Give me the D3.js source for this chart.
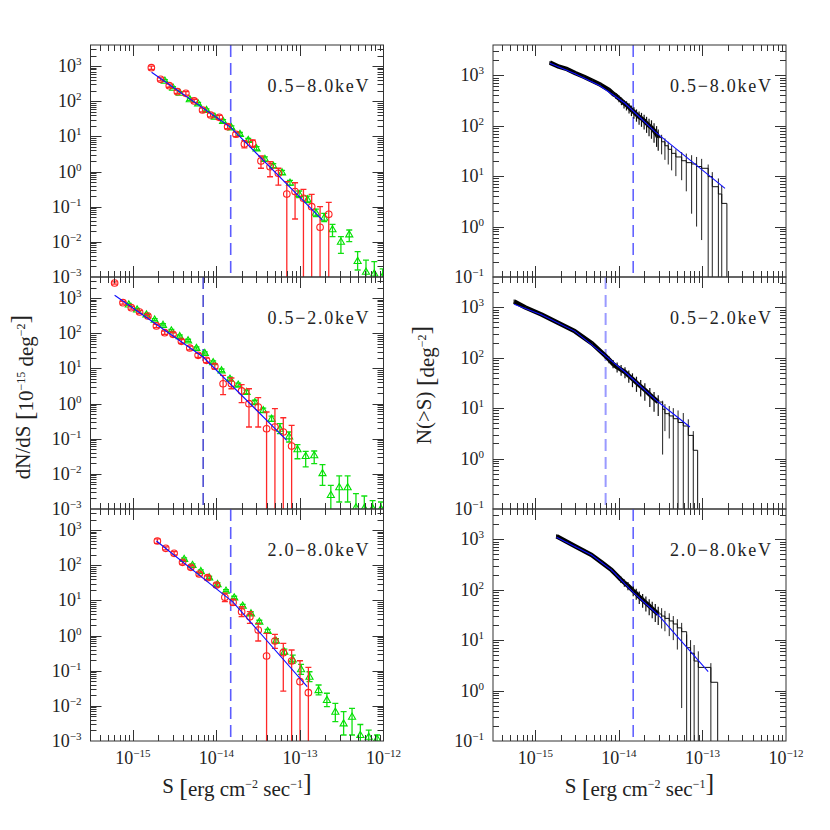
<!DOCTYPE html>
<html>
<head>
<meta charset="utf-8">
<script src="https://cdn.jsdelivr.net/npm/d3@7"></script>
<style>
  body { margin: 0; background: #fff; }
  svg { font-family: "Liberation Serif", "DejaVu Serif", serif; }
</style>
</head>
<body>
<svg id="chart" width="830" height="830"></svg>
<script>
// ======================
// DATA  (S in units of 1e-15 erg cm^-2 s^-1)
// rows: [S, N, errLow, errHigh]  (errLow 0 = bar runs to the axis)
// ======================

// --- dN/dS, 0.5-8.0 keV ---
const red808 = [
  [1.66, 899, 800, 1000], [2.14, 421, 380, 465], [2.72, 277, 250, 305],
  [3.40, 187, 168, 207], [4.30, 168, 150, 188], [5.41, 102, 91, 114],
  [6.81, 56.4, 50, 63.5], [8.51, 40.6, 36, 46], [10.8, 34.9, 31, 39.5],
  [13.6, 18.9, 16.5, 21.5], [17.1, 11.5, 9.8, 13.3], [21.6, 6.07, 4.7, 7.6],
  [27.1, 6.35, 4.9, 7.9], [34.1, 2.0, 1.24, 2.77], [43.8, 1.37, 0.71, 1.9],
  [55.1, 0.89, 0.41, 1.24], [69.5, 0.229, 0, 0.514], [87.3, 0.269, 0.0447, 0.48],
  [110, 0.174, 0, 0.313], [138, 0.1, 0, 0.225], [174, 0.026, 0, 0.1],
  [221, 0.0607, 0, 0.133]
];
const green808 = [
  [2.41, 384, 360, 410], [3.02, 243, 228, 259], [3.63, 175, 164, 187],
  [4.79, 114, 106, 122], [6.03, 87.1, 81, 93], [7.59, 56.4, 52, 61],
  [9.55, 36.3, 33.5, 39], [12.0, 27.4, 25, 30], [15.1, 18.1, 16.5, 19.8],
  [19.1, 11.7, 10.6, 12.9], [24.0, 7.89, 7.1, 8.7], [30.2, 4.58, 4.1, 5.1],
  [38.0, 2.28, 2.0, 2.6], [47.9, 1.47, 1.3, 1.67], [61.0, 0.95, 0.83, 1.08],
  [75.9, 0.482, 0.41, 0.56], [97.7, 0.229, 0.18, 0.28], [123, 0.162, 0.13, 0.2],
  [155, 0.0676, 0.052, 0.085], [195, 0.0486, 0.0374, 0.0649],
  [245, 0.0228, 0.014, 0.0315], [309, 0.0101, 0.00472, 0.014],
  [389, 0.0164, 0.0101, 0.0217], [490, 0.00285, 0.00158, 0.00525],
  [617, 0.00141, 0, 0.00304], [776, 0.00126, 0, 0.00272], [977, 0.00105, 0, 0.0017]
];
const fit808 = [[1.67, 665], [14.8, 18.1], [186, 0.0418]];

// --- dN/dS, 0.5-2.0 keV ---
const red052 = [
  [0.603, 2690, 2500, 2900], [0.759, 740, 670, 810], [0.955, 533, 485, 585],
  [1.20, 402, 365, 440], [1.51, 309, 280, 340], [1.91, 161, 145, 178],
  [2.40, 104, 93, 116], [3.02, 93.3, 83, 104], [3.80, 58.9, 52, 66],
  [4.79, 38.0, 33.5, 43], [6.03, 23.6, 20.5, 27], [7.59, 17.0, 14.5, 19.7],
  [9.55, 11.5, 9.6, 13.5], [12.0, 3.66, 1.79, 6.35], [15.1, 3.66, 2.64, 5.33],
  [20.0, 2.28, 1.06, 3.44], [24.5, 0.99, 0.215, 2.64], [31.6, 0.794, 0.215, 1.47],
  [39.8, 0.192, 0, 0.575], [50.1, 0.214, 0, 0.713], [63.1, 0.155, 0, 0.395],
  [79.4, 0.0617, 0, 0.24]
];
const green052 = [
  [0.891, 661, 620, 705], [1.12, 474, 445, 505], [1.45, 342, 320, 365],
  [1.82, 245, 230, 261], [2.29, 174, 163, 186], [2.88, 120, 112, 128],
  [3.63, 83.2, 78, 89], [4.57, 63.1, 59, 67.5], [5.75, 38.0, 35.5, 40.6],
  [7.24, 27.4, 25.5, 29.4], [9.12, 15.1, 14, 16.3], [11.5, 8.83, 8.1, 9.6],
  [14.5, 5.09, 4.6, 5.6], [18.2, 3.44, 3.1, 3.8], [22.9, 2.14, 1.9, 2.4],
  [28.8, 1.10, 0.97, 1.24], [36.3, 0.646, 0.56, 0.74], [45.7, 0.372, 0.31, 0.44],
  [57.5, 0.192, 0.139, 0.267], [74.1, 0.117, 0.0805, 0.155],
  [93.3, 0.0501, 0.0269, 0.0676], [117, 0.0324, 0.0157, 0.0437],
  [148, 0.0339, 0.0195, 0.0447], [186, 0.0105, 0.00472, 0.0182],
  [234, 0.00251, 0, 0.00472], [295, 0.00417, 0.00158, 0.0087],
  [372, 0.00417, 0.00158, 0.0087], [468, 0.00112, 0, 0.00272],
  [589, 0.00107, 0, 0.00234], [741, 0.00105, 0, 0.00174], [933, 0.00103, 0, 0.00158]
];
const fit052 = [[0.603, 1200], [6.92, 21.1], [69.5, 0.09]];

// --- dN/dS, 2.0-8.0 keV ---
const red208 = [
  [1.96, 490, 420, 560], [2.47, 302, 272, 335], [3.11, 219, 197, 243],
  [3.92, 121, 108, 135], [4.93, 87.2, 78, 97], [6.21, 56.3, 50, 63],
  [7.81, 44.3, 39, 50], [10.0, 27.4, 24, 31], [12.6, 12.2, 9.2, 16],
  [15.8, 8.83, 7.2, 10.6], [20.0, 4.79, 3.47, 6.6], [25.1, 3.44, 2.23, 4.79],
  [31.6, 1.44, 0.7, 2.23], [39.8, 0.262, 0, 1.16], [50.1, 0.7, 0.434, 1.08],
  [63.1, 0.325, 0.0264, 0.601], [79.4, 0.189, 0, 0.388], [100, 0.0486, 0, 0.192],
  [126, 0.0237, 0, 0.125]
];
const green208 = [
  [4.10, 151, 141, 162], [5.16, 102, 95, 109], [6.50, 68.5, 64, 73.5],
  [8.18, 45.4, 42.3, 48.7], [10.3, 29.2, 27.2, 31.3], [13.0, 18.9, 17.6, 20.3],
  [16.3, 12.2, 11.3, 13.1], [20.6, 7.08, 6.5, 7.7], [25.9, 4.3, 3.9, 4.7],
  [32.6, 2.48, 2.25, 2.72], [41.0, 1.35, 1.2, 1.5], [51.6, 0.713, 0.62, 0.81],
  [65.0, 0.347, 0.29, 0.41], [81.8, 0.211, 0.162, 0.279], [103, 0.11, 0.0789, 0.152],
  [130, 0.0675, 0.0486, 0.0933], [167, 0.0282, 0.0204, 0.0392],
  [210, 0.0147, 0.00946, 0.0228], [265, 0.00681, 0.00355, 0.0118],
  [333, 0.00318, 0.00148, 0.00681], [420, 0.00491, 0.00148, 0.00851],
  [528, 0.00148, 0, 0.00295], [665, 0.00132, 0, 0.00204], [838, 0.00117, 0, 0.00148]
];
const fit208 = [[1.91, 490], [15.8, 8.91], [122, 0.0351]];

// --- N(>S): faint, densely sampled part (drawn as a thick band) ---
const dense808 = [
  [1.49, 1778, 1650, 1900], [1.91, 1479, 1400, 1560], [2.40, 1318, 1250, 1390],
  [3.02, 1096, 1040, 1160], [3.80, 933, 880, 990], [4.79, 776, 730, 825],
  [6.03, 646, 605, 690], [7.59, 513, 470, 555], [8.5, 430, 385, 470],
  [9.2, 395, 340, 445], [10.0, 345, 290, 395], [10.7, 315, 255, 360],
  [11.5, 280, 220, 325], [12.3, 258, 200, 305], [13.2, 232, 175, 280],
  [14.1, 205, 155, 250], [15.1, 188, 138, 232], [16.2, 168, 120, 210],
  [17.4, 150, 105, 192], [18.6, 140, 95, 180], [20.0, 126, 84, 165],
  [21.4, 112, 72, 150], [22.9, 100, 62, 138], [24.5, 92, 55, 128],
  [26.3, 80, 46, 112], [28.2, 68, 38, 98], [29.5, 58, 32, 84]
];
// --- N(>S): bright, sparse part (drawn as steps) ---
const steps808 = [
  [32.4, 48, 27, 66], [35.5, 40, 21, 56], [38.9, 34, 17, 48], [42.7, 28.3, 13, 40],
  [48.0, 24, 10, 34], [56.3, 20.2, 8.3, 30], [64.0, 18.5, 5, 28], [74.1, 17.4, 1.8, 26],
  [85.0, 15.5, 1.0, 24], [97.7, 14.3, 0.54, 22], [117, 9.77, 0, 17],
  [131, 6.17, 0, 12], [155, 4.42, 0, 9], [170, 2.88, 0, 6.5]
];
const end808 = 196;
const cumFit808 = [[1.49, 1726], [2.97, 1074], [5.91, 621], [11.8, 278], [26.9, 76], [186, 5.73]];

const dense052 = [
  [0.556, 1300, 1150, 1420], [0.759, 990, 930, 1050], [1.18, 720, 680, 760],
  [1.91, 480, 450, 510], [2.97, 333, 310, 355], [4.79, 190, 172, 210],
  [6.78, 111, 97, 126], [7.6, 92, 78, 106], [8.5, 75, 62, 90],
  [9.5, 65, 51, 80], [10.6, 58, 44, 72], [11.8, 52, 39, 65],
  [13.1, 44, 32, 56], [14.5, 38, 26, 49], [16.2, 32, 21, 42],
  [18.2, 27, 17, 36], [20.4, 23, 14, 31], [23.4, 18.5, 10.5, 25],
  [26.3, 15.5, 8.5, 21], [29.5, 13.2, 7, 18]
];
const steps052 = [
  [33.3, 9.5, 1.2, 14], [35.5, 7.76, 3.5, 12], [40.0, 7.0, 2.5, 11],
  [44.7, 6.17, 0, 10], [51.0, 5.2, 0, 9], [58.9, 4.42, 0, 8],
  [67.6, 2.88, 0, 6], [77.6, 1.46, 0, 3.5]
];
const end052 = 87.5;
const cumFit052 = [[0.556, 1146], [1.18, 713], [2.97, 333], [6.78, 111], [11.8, 52], [29.5, 13.2], [70.8, 4.23]];

const dense208 = [
  [1.79, 1150, 1050, 1250], [2.4, 880, 830, 930], [3.02, 720, 680, 760],
  [4.70, 488, 460, 515], [6.3, 340, 315, 365], [8.16, 245, 222, 268],
  [9.2, 200, 178, 222], [10.5, 160, 138, 182], [11.6, 138, 115, 160],
  [12.8, 120, 98, 142], [14.8, 95, 74, 116], [16.1, 84, 63, 104],
  [17.5, 72, 52, 92], [19.2, 63, 44, 82], [21.0, 55, 37, 73],
  [23.0, 48, 31, 65], [25.0, 42, 27, 58], [27.2, 37, 23, 52], [29.5, 33, 20, 46]
];
const steps208 = [
  [32.4, 30, 17, 43], [35.5, 27, 15, 38], [40.0, 24, 12, 34], [44.7, 20.9, 10, 30],
  [50.0, 17.5, 6.5, 26], [56.3, 14.7, 0.45, 22], [64.6, 7.08, 0, 13],
  [72.0, 5.5, 0, 10], [79.4, 3.85, 0, 8], [89.1, 2.88, 0, 6], [126, 1.46, 0, 3.5]
];
const end208 = 152;
const cumFit208 = [[1.79, 1094], [4.70, 488], [8.16, 245], [14.8, 88.7], [29.5, 31.5], [117, 2.37]];

// flux limits (dashed) and band names
const bandNames = ["0.5\u22128.0keV", "0.5\u22122.0keV", "2.0\u22128.0keV"];
const fluxLimits = [14.8, 6.92, 14.8];

// axis domains
const xDomain = [0.31, 1000];
const yDomainDiff = [1e-3, 3981];
const yDomainCum = [0.1, 3981];
const xTickExp = [-15, -14, -13, -12];

// ======================
// LAYOUT
// ======================
const svg = d3.select("#chart");
const cols = [[90.5, 383.5], [493, 786]];
const rows = [[45, 277], [277, 509], [509, 741]];

function supText(sel, base, exp) {
  sel.append("tspan").text(base);
  sel.append("tspan").attr("font-size", 11).attr("dy", -7).text(exp);
}
function expStr(k) { return k < 0 ? "\u2212" + (-k) : String(k); }

let clipId = 0;
function makePanel(col, row, yDomain, bottomLabels) {
  const [x0, x1] = cols[col];
  const [y0, y1] = rows[row];
  const x = d3.scaleLog().domain(xDomain).range([x0, x1]);
  const y = d3.scaleLog().domain(yDomain).range([y1, y0]);
  const g = svg.append("g");
  const id = "clip" + (clipId++);
  svg.append("clipPath").attr("id", id)
    .append("rect").attr("x", x0).attr("y", y0).attr("width", x1 - x0).attr("height", y1 - y0);
  const plot = g.append("g").attr("clip-path", `url(#${id})`);

  // frame + ticks on all four sides, pointing inwards
  const axis = g.append("g").attr("stroke", "#333").attr("stroke-width", 1).attr("fill", "none");
  axis.append("rect").attr("x", x0).attr("y", y0).attr("width", x1 - x0).attr("height", y1 - y0);
  const isMajor = v => Math.abs(Math.log10(v) - Math.round(Math.log10(v))) < 1e-6;
  x.ticks().filter(v => v > xDomain[0] && v < xDomain[1]).forEach(v => {
    const L = isMajor(v) ? 11 : 6, px = Math.round(x(v)) + 0.5;
    axis.append("line").attr("x1", px).attr("x2", px).attr("y1", y1).attr("y2", y1 - L);
    axis.append("line").attr("x1", px).attr("x2", px).attr("y1", y0).attr("y2", y0 + L);
  });
  y.ticks().filter(v => v > yDomain[0] && v < yDomain[1]).forEach(v => {
    const L = isMajor(v) ? 11 : 6, py = Math.round(y(v)) + 0.5;
    axis.append("line").attr("x1", x0).attr("x2", x0 + L).attr("y1", py).attr("y2", py);
    axis.append("line").attr("x1", x1).attr("x2", x1 - L).attr("y1", py).attr("y2", py);
  });

  // y tick labels
  const kLo = Math.round(Math.log10(yDomain[0]));
  const kHi = Math.floor(Math.log10(yDomain[1]));
  d3.range(kLo, kHi + 1).forEach(k => {
    const t = g.append("text").attr("x", x0 - 9).attr("y", y(Math.pow(10, k)) + 6)
      .attr("text-anchor", "end").attr("font-size", 18).attr("fill", "#222");
    supText(t, "10", expStr(k));
  });
  if (bottomLabels) {
    xTickExp.forEach(k => {
      const t = g.append("text").attr("x", x(Math.pow(10, k + 15))).attr("y", y1 + 23)
        .attr("text-anchor", "middle").attr("font-size", 18).attr("fill", "#222");
      supText(t, "10", expStr(k));
    });
  }
  return { x, y, g, plot, x0, x1, y0, y1 };
}

function bandLabel(p, name) {
  p.g.append("text").attr("x", p.x1 - 15).attr("y", p.y0 + 47)
    .attr("text-anchor", "end").attr("font-size", 18).attr("fill", "#222")
    .attr("textLength", 101).attr("lengthAdjust", "spacing")
    .text(name);
}

function dashed(p, s, style) {
  p.plot.append("line")
    .attr("x1", p.x(s)).attr("x2", p.x(s))
    .attr("y1", p.y0).attr("y2", p.y1)
    .attr("stroke", style.color).attr("stroke-width", style.width)
    .attr("stroke-dasharray", "12,6");
}

function errorBars(p, data, color, cap, width) {
  const gg = p.plot.append("g").attr("stroke", color).attr("stroke-width", width)
    .attr("fill", "none");
  data.forEach(d => {
    const px = p.x(d[0]);
    const yLo = d[2] > 0 ? p.y(d[2]) : p.y1 + 2;
    const yHi = p.y(d[3]);
    gg.append("line").attr("x1", px).attr("x2", px).attr("y1", yLo).attr("y2", yHi);
    if (cap) {
      gg.append("line").attr("x1", px - cap).attr("x2", px + cap).attr("y1", yHi).attr("y2", yHi);
      if (d[2] > 0) gg.append("line").attr("x1", px - cap).attr("x2", px + cap).attr("y1", yLo).attr("y2", yLo);
    }
  });
}

function circles(p, data) {
  errorBars(p, data, "#ff2828", 3, 1.3);
  p.plot.append("g").selectAll("circle").data(data).join("circle")
    .attr("cx", d => p.x(d[0])).attr("cy", d => p.y(d[1])).attr("r", 3.3)
    .attr("fill", "none").attr("stroke", "#ff2020").attr("stroke-width", 1.1);
}

function triangles(p, data) {
  errorBars(p, data, "#10e010", 3, 1.3);
  const tri = d3.symbol().type(d3.symbolTriangle).size(22);
  p.plot.append("g").selectAll("path").data(data).join("path")
    .attr("d", tri)
    .attr("transform", d => `translate(${p.x(d[0])},${p.y(d[1]) + 0.5})`)
    .attr("fill", "none").attr("stroke", "#00e000").attr("stroke-width", 1.1);
}

function fitLine(p, pts) {
  p.plot.append("path")
    .attr("d", d3.line().x(d => p.x(d[0])).y(d => p.y(d[1]))(pts))
    .attr("fill", "none").attr("stroke", "#1010ff").attr("stroke-width", 1.1);
}

function cumulative(p, dense, steps, sEnd) {
  const lin = d3.line().x(d => p.x(d[0])).y(d => p.y(d[1]));
  const step = d3.line().x(d => p.x(d[0])).y(d => p.y(d[1])).curve(d3.curveStepAfter);
  // faint end: many overlapping steps + errors read as a thick black band
  p.plot.append("path").attr("d", lin(dense))
    .attr("fill", "none").attr("stroke", "#000").attr("stroke-width", 4.5)
    .attr("stroke-linejoin", "round");
  errorBars(p, dense, "#111", 0, 1.2);
  errorBars(p, steps, "#222", 0, 1);
  const last = steps[steps.length - 1];
  const stepPts = [dense[dense.length - 1]].concat(steps).concat([[sEnd, last[1]]]);
  p.plot.append("path").attr("d", step(stepPts))
    .attr("fill", "none").attr("stroke", "#111").attr("stroke-width", 1);
  // final drop to the axis
  p.plot.append("line")
    .attr("x1", p.x(sEnd)).attr("x2", p.x(sEnd))
    .attr("y1", p.y(last[1])).attr("y2", p.y1 + 2)
    .attr("stroke", "#111").attr("stroke-width", 1);
}

// ======================
// DRAW
// ======================
const diffSets = [[red808, green808, fit808], [red052, green052, fit052], [red208, green208, fit208]];
const cumSets = [
  [dense808, steps808, end808, cumFit808],
  [dense052, steps052, end052, cumFit052],
  [dense208, steps208, end208, cumFit208]
];
const dashLeft = [
  { color: "#5c5cff", width: 1.6 }, { color: "#2424c8", width: 1.3 }, { color: "#5c5cff", width: 1.6 }
];
const dashRight = [
  { color: "#6464ff", width: 1.6 }, { color: "#9a9aff", width: 2 }, { color: "#6464ff", width: 1.6 }
];

diffSets.forEach(([red, green, fit], i) => {
  const p = makePanel(0, i, yDomainDiff, i === 2);
  dashed(p, fluxLimits[i], dashLeft[i]);
  triangles(p, green);
  circles(p, red);
  fitLine(p, fit);
  bandLabel(p, bandNames[i]);
});

cumSets.forEach(([dense, steps, sEnd, fit], i) => {
  const p = makePanel(1, i, yDomainCum, i === 2);
  dashed(p, fluxLimits[i], dashRight[i]);
  cumulative(p, dense, steps, sEnd);
  fitLine(p, fit);
  bandLabel(p, bandNames[i]);
});

// axis titles (brackets drawn tall, like the original)
function bracket(t, ch) {
  t.append("tspan").attr("font-size", 26).attr("dy", 3).text(ch);
  t.append("tspan").attr("dy", -3).text("");
}
function xTitle(cx) {
  const t = svg.append("text").attr("x", cx).attr("y", 793)
    .attr("text-anchor", "middle").attr("font-size", 21).attr("fill", "#222");
  t.append("tspan").text("S ");
  bracket(t, "[");
  t.append("tspan").text("erg cm");
  t.append("tspan").attr("font-size", 12).attr("dy", -8).text("\u22122");
  t.append("tspan").attr("dy", 8).text(" sec");
  t.append("tspan").attr("font-size", 12).attr("dy", -8).text("\u22121");
  t.append("tspan").attr("dy", 8).text("");
  bracket(t, "]");
}
xTitle((cols[0][0] + cols[0][1]) / 2);
xTitle((cols[1][0] + cols[1][1]) / 2);

const yl = svg.append("text").attr("transform", "translate(30,397) rotate(-90)")
  .attr("text-anchor", "middle").attr("font-size", 21).attr("fill", "#222");
yl.append("tspan").text("dN/dS ");
bracket(yl, "[");
yl.append("tspan").text("10");
yl.append("tspan").attr("font-size", 12).attr("dy", -8).text("\u221215");
yl.append("tspan").attr("dy", 8).text(" deg");
yl.append("tspan").attr("font-size", 12).attr("dy", -8).text("\u22122");
yl.append("tspan").attr("dy", 8).text("");
bracket(yl, "]");

const yr = svg.append("text").attr("transform", "translate(431,385) rotate(-90)")
  .attr("text-anchor", "middle").attr("font-size", 21).attr("fill", "#222");
yr.append("tspan").text("N(>S) ");
bracket(yr, "[");
yr.append("tspan").text("deg");
yr.append("tspan").attr("font-size", 12).attr("dy", -8).text("\u22122");
yr.append("tspan").attr("dy", 8).text("");
bracket(yr, "]");
</script>
</body>
</html>
